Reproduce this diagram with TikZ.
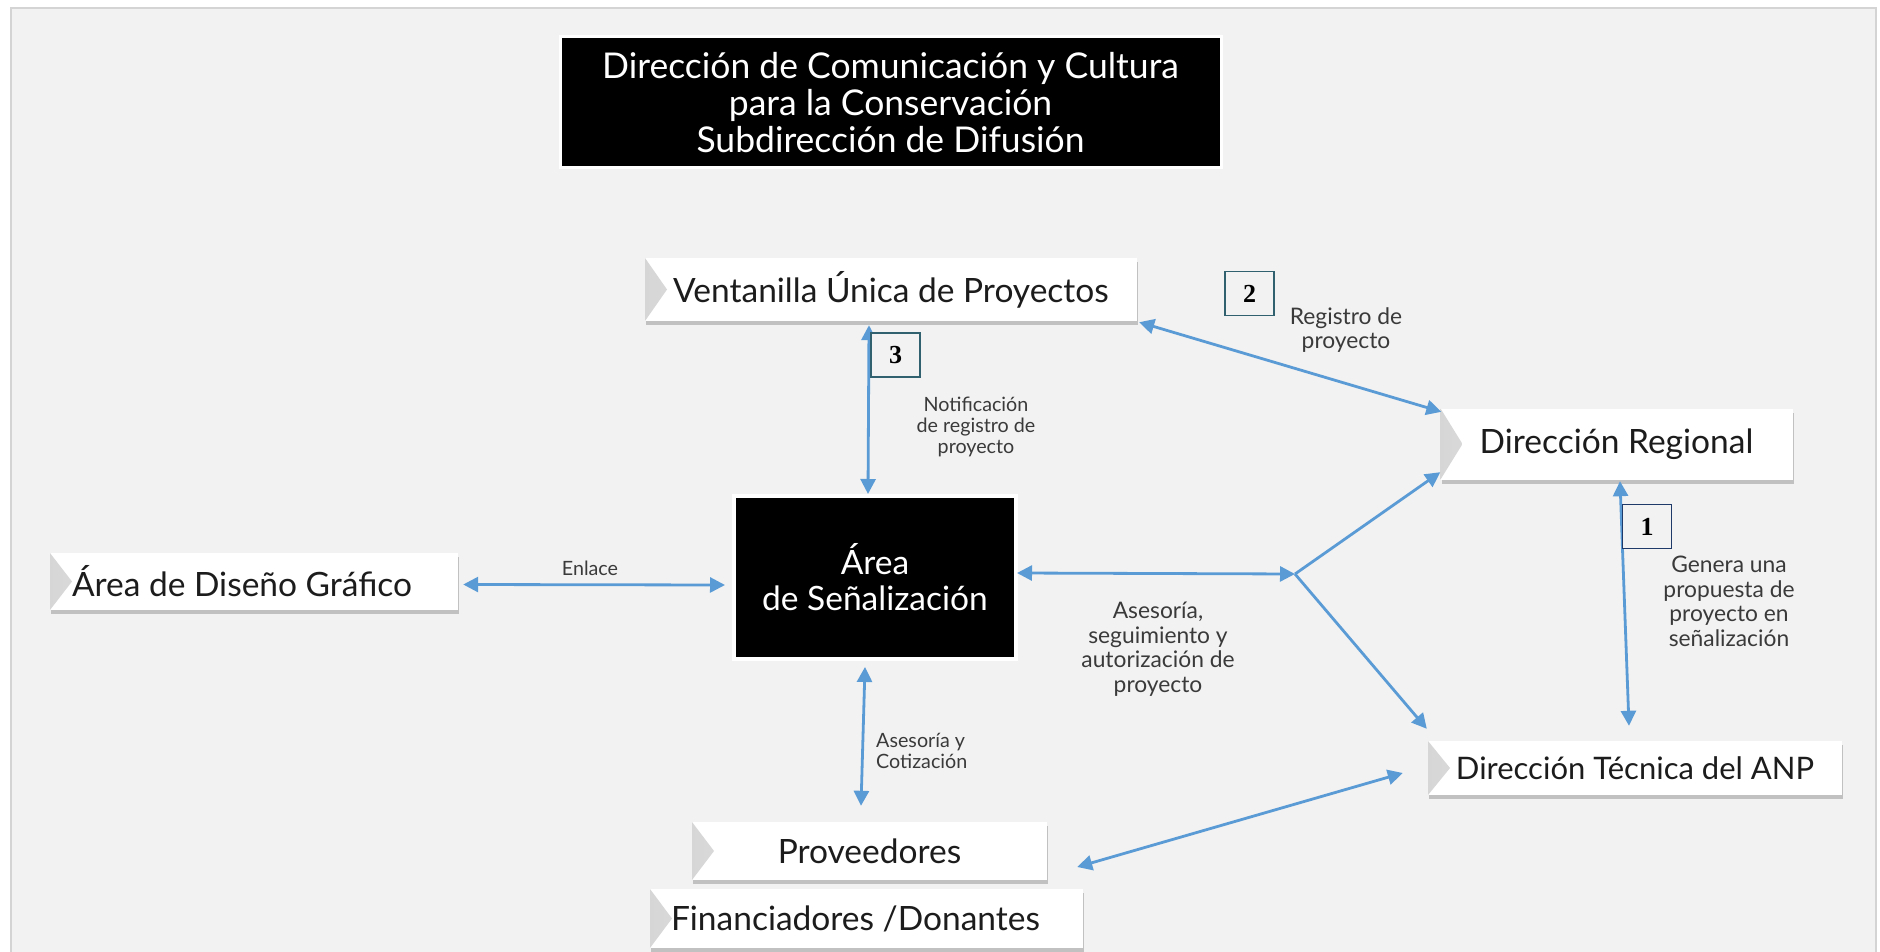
\documentclass[tikz,border=0pt]{standalone}
\usepackage{fontspec}
\setmainfont{Lato}
\newfontfamily\numfont{Liberation Serif}
\usetikzlibrary{arrows.meta, calc, shadows}

\definecolor{fondo}{HTML}{F2F2F2}
\definecolor{marco}{HTML}{D4D4D4}
\definecolor{flecha}{HTML}{5B9BD5}
\definecolor{tinta}{HTML}{1C1C1C}
\definecolor{gris}{HTML}{3A3A3A}
\definecolor{verdoso}{HTML}{31606F}
\definecolor{marino}{HTML}{1F3A68}

\begin{document}
\begin{tikzpicture}[x=1pt, y=-1pt,
	caja/.style={fill=white, inner sep=0pt, text=tinta, font=\fontsize{33.5}{38}\selectfont,
		drop shadow={shadow xshift=1pt, shadow yshift=-4pt, fill=black, opacity=.2},
		path picture={
			\fill[left color=black!16, right color=white] (path picture bounding box.north west) -- ($(path picture bounding box.west)+(22,0)$) -- (path picture bounding box.south west) -- cycle;
		}},
	negra/.style={fill=black, draw=white, text=white, align=center, inner sep=0pt},
	numero/.style={draw=verdoso, line width=1.5pt, fill=fondo, minimum width=49, minimum height=44, font=\numfont\bfseries\fontsize{26}{26}\selectfont},
	nota/.style={text=gris, align=center, inner sep=0pt, font=\fontsize{22.8}{24.5}\selectfont},
	notita/.style={nota, font=\fontsize{19.7}{21}\selectfont},
	flujo/.style={draw=flecha, line width=2.8pt, >={Triangle[length=15pt, width=15pt]}, <->},
	]
	\useasboundingbox (0,0) rectangle (1880,952);
	\fill[white] (0,0) rectangle (1880,952);
	\draw[marco, line width=2pt, fill=fondo] (11,8) rectangle (1876,970);

	\node[negra, line width=3pt, minimum width=661, minimum height=131, font=\fontsize{35.5}{37}\selectfont] (titulo) at (890.5,102.5) {Dirección de Comunicación y Cultura\\para la Conservación\\Subdirección de Difusión};

	\node[caja, minimum width=492, minimum height=63] (ventanilla) at (891,289.5) {Ventanilla Única de Proyectos};
	\node[caja, minimum width=352, minimum height=71] (regional) at (1616.5,444) {Dirección Regional};
	\node[caja, minimum width=408, minimum height=57, text width=364, align=flush left] (diseno) at (254,581.5) {Área de Diseño Gráfico};
	\node[negra, line width=4pt, minimum width=282, minimum height=163, font=\fontsize{33.5}{36}\selectfont] (senal) at (875,577.5) {Área\\de Señalización};
	\node[caja, minimum width=414, minimum height=54, font=\fontsize{31}{36}\selectfont] (tecnica) at (1635,768) {Dirección Técnica del ANP};
	\node[caja, minimum width=355, minimum height=58] (proveedores) at (869.5,851) {Proveedores};
	\node[caja, minimum width=433, minimum height=59, text width=391, align=flush left] (financiadores) at (866.5,918.5) {Financiadores /Donantes};

	\coordinate (cruce) at (1295,574);

	\draw[flujo] ([xshift=-22pt, yshift=-4pt]ventanilla.south) -- ([xshift=-7pt]senal.north);
	\draw[flujo] ([xshift=2pt, yshift=-1pt]ventanilla.south east) -- ([xshift=1pt, yshift=-3.5pt]regional.north west);
	\draw[flujo] ([xshift=5pt, yshift=-3pt]diseno.east) -- ([xshift=-7pt, yshift=-7.5pt]senal.west);
	\draw[flujo] ([xshift=-1pt, yshift=4.5pt]senal.east) -- (cruce);
	\draw[flujo, ->] (cruce) -- ([yshift=7.5pt]regional.south west);
	\draw[flujo, ->] (cruce) -- ([xshift=-1pt, yshift=12pt]tecnica.north west);
	\draw[flujo] ([xshift=3.5pt, yshift=-1.5pt]regional.south) -- ([xshift=-6pt, yshift=15pt]tecnica.north);
	\draw[flujo] ([xshift=-10pt, yshift=-6pt]senal.south) -- ([xshift=-8.5pt, yshift=16pt]proveedores.north);
	\draw[flujo] ([xshift=-25pt, yshift=-5pt]tecnica.west) -- ([xshift=30pt, yshift=-16pt]proveedores.east);

	\node[numero, draw=marino] (n1) at (1647,526.5) {1};
	\node[numero] (n2) at (1249.5,293.5) {2};
	\node[numero] (n3) at (895.5,355) {3};

	\node[notita] (notif) at (976,427) {Notificación\\de registro de\\proyecto};
	\node[nota] (registro) at (1346,330) {Registro de\\proyecto};
	\node[notita] (enlace) at (590,568) {Enlace};
	\node[nota] (asesoria) at (1158,649) {Asesoría,\\seguimiento y\\autorización de\\proyecto};
	\node[nota] (genera) at (1729,601.5) {Genera una\\propuesta de\\proyecto en\\señalización};
	\node[notita, align=left, anchor=west] (cotiza) at (876,750.5) {Asesoría y\\Cotización};
\end{tikzpicture}
\end{document}
